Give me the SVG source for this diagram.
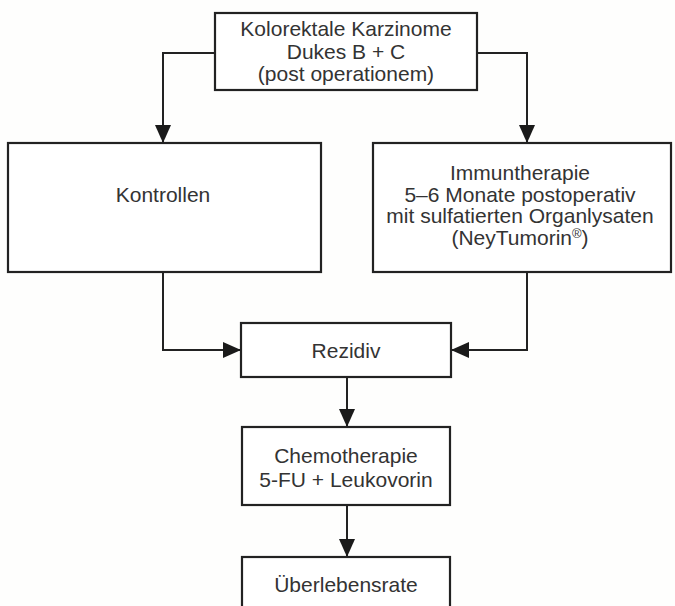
<svg xmlns="http://www.w3.org/2000/svg" width="675" height="606" viewBox="0 0 675 606">
<defs>
<style>
.box{fill:#ffffff;stroke:#222;stroke-width:2.2}
.t{font-family:"Liberation Sans",Arial,Helvetica,sans-serif;font-size:21px;fill:#333;text-anchor:middle}
.c{fill:none;stroke:#222;stroke-width:2}
</style>
<marker id="ah" markerUnits="userSpaceOnUse" viewBox="0 0 18 16" refX="18" refY="8" markerWidth="18" markerHeight="16" orient="auto">
<path d="M0,0 L18,8 L0,16 Z" fill="#1a1a1a"/>
</marker>
</defs>
<rect width="675" height="606" fill="#fefefd"/>
<g id="connectors">
<polyline class="c" points="215,53 163,53 163,143" marker-end="url(#ah)"/>
<polyline class="c" points="477,53 527,53 527,143" marker-end="url(#ah)"/>
<polyline class="c" points="163,272 163,350 241,350" marker-end="url(#ah)"/>
<polyline class="c" points="527,272 527,350 451,350" marker-end="url(#ah)"/>
<line class="c" x1="347" y1="377" x2="347" y2="427" marker-end="url(#ah)"/>
<line class="c" x1="347" y1="505" x2="347" y2="557" marker-end="url(#ah)"/>
</g>
<g id="start">
<rect class="box" x="215" y="13" width="262" height="77"/>
<text class="t" x="346" y="36">Kolorektale Karzinome</text>
<text class="t" x="346" y="58.5">Dukes B + C</text>
<text class="t" x="346" y="81">(post operationem)</text>
</g>
<g id="kontrollen">
<rect class="box" x="8" y="143" width="313" height="129"/>
<text class="t" x="163" y="202">Kontrollen</text>
</g>
<g id="immuntherapie">
<rect class="box" x="373" y="143" width="298" height="129"/>
<text class="t" x="520" y="180">Immuntherapie</text>
<text class="t" x="520" y="201.5">5–6 Monate postoperativ</text>
<text class="t" x="520" y="223">mit sulfatierten Organlysaten</text>
<text class="t" x="520" y="245">(NeyTumorin<tspan font-size="13" dy="-7">®</tspan><tspan dy="7">)</tspan></text>
</g>
<g id="rezidiv">
<rect class="box" x="241" y="323" width="210" height="54"/>
<text class="t" x="346" y="358">Rezidiv</text>
</g>
<g id="chemo">
<rect class="box" x="242" y="427" width="208" height="78"/>
<text class="t" x="346" y="463">Chemotherapie</text>
<text class="t" x="346" y="487">5-FU + Leukovorin</text>
</g>
<g id="ueberleben">
<rect class="box" x="242" y="557" width="208" height="60"/>
<text class="t" x="346" y="592">Überlebensrate</text>
</g>
</svg>
